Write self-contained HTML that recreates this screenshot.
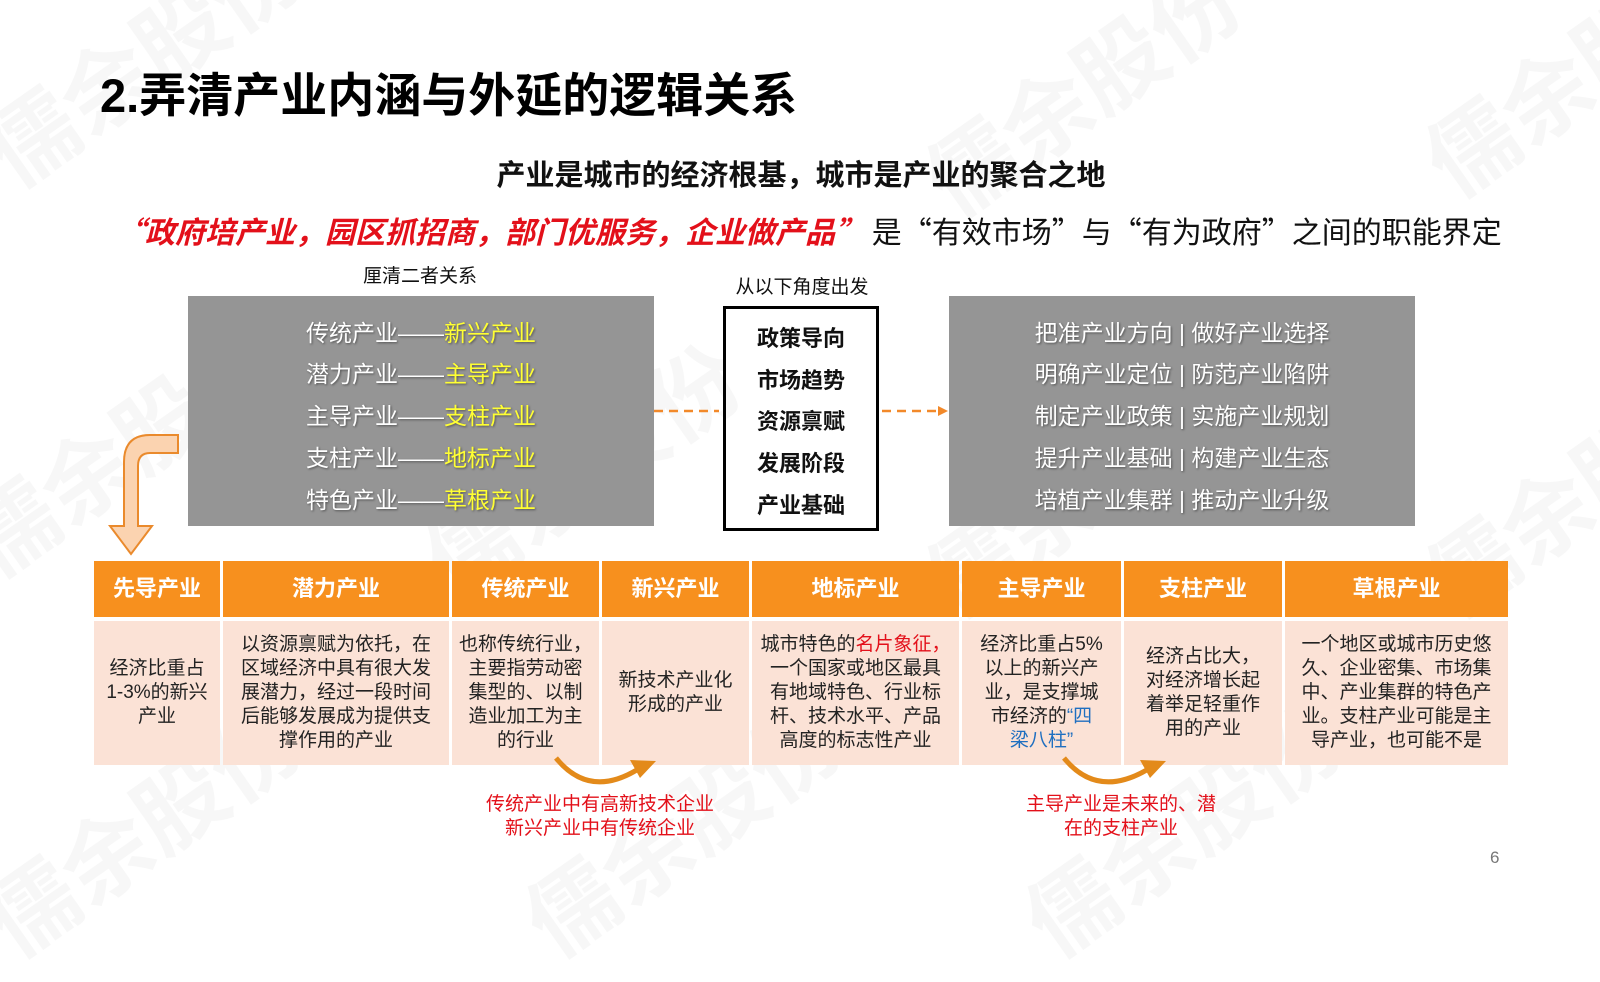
<!DOCTYPE html>
<html><head><meta charset="utf-8"><style>
*{margin:0;padding:0;box-sizing:border-box}
body{width:1600px;height:900px;background:#fff;position:relative;overflow:hidden;font-family:"Liberation Sans","Noto Sans CJK SC",sans-serif;color:#111}
.a{position:absolute;white-space:nowrap}
.c{text-align:center}
.gray{position:absolute;background:#959595}
.gl{position:absolute;left:0;width:100%;text-align:center;color:#fff;font-size:23px;text-shadow:1px 1px 2px rgba(0,0,0,.45);line-height:30px}
.y{color:#ffff33}
.bx div{font-weight:bold;font-size:22px;line-height:30px;position:absolute;left:0;width:100%;text-align:center}
.h{position:absolute;top:561px;height:56px;background:#f7901e;color:#fff;font-weight:bold;font-size:22px;line-height:56px;text-align:center}
.b{position:absolute;top:621px;height:144px;background:#fbe2d6;color:#222;font-size:19px;line-height:24px;display:table;table-layout:fixed}
.b>div{display:table-cell;vertical-align:middle;text-align:center;white-space:nowrap}
.wm{position:absolute;color:rgba(0,0,0,.03);font-size:90px;font-weight:bold;transform:rotate(-35deg);white-space:nowrap}
</style></head><body>
<div class="wm" style="left:-40px;top:-10px">儒余股份</div>
<div class="wm" style="left:900px;top:20px">儒余股份</div>
<div class="wm" style="left:1400px;top:0px">儒余股份</div>
<div class="wm" style="left:-60px;top:380px">儒余股份</div>
<div class="wm" style="left:400px;top:400px">儒余股份</div>
<div class="wm" style="left:900px;top:420px">儒余股份</div>
<div class="wm" style="left:1400px;top:420px">儒余股份</div>
<div class="wm" style="left:-40px;top:760px">儒余股份</div>
<div class="wm" style="left:500px;top:760px">儒余股份</div>
<div class="wm" style="left:1000px;top:760px">儒余股份</div>

<div class="a" style="left:100px;top:67px;font-size:47px;font-weight:bold;line-height:58px;color:#000">2.弄清产业内涵与外延的逻辑关系</div>
<div class="a c" style="left:0;width:1600px;top:158px;font-size:29px;font-weight:bold;line-height:36px;padding-left:2px">产业是城市的经济根基，城市是产业的聚合之地</div>
<div class="a" style="left:115px;top:210px;font-size:30px;line-height:40px;font-family:'Noto Sans CJK SC',sans-serif"><span style="color:#e3101a;font-weight:bold;font-style:italic">“政府培产业，园区抓招商，部门优服务，企业做产品”</span> 是“有效市场”与“有为政府”之间的职能界定</div>

<div class="a c" style="left:320px;width:200px;top:265px;font-size:19px;line-height:24px">厘清二者关系</div>
<div class="gray" style="left:188px;top:296px;width:466px;height:230px">
<div class="gl" style="top:22px">传统产业——<span class="y">新兴产业</span></div>
<div class="gl" style="top:63px">潜力产业——<span class="y">主导产业</span></div>
<div class="gl" style="top:105px">主导产业——<span class="y">支柱产业</span></div>
<div class="gl" style="top:147px">支柱产业——<span class="y">地标产业</span></div>
<div class="gl" style="top:189px">特色产业——<span class="y">草根产业</span></div>
</div>

<div class="a c" style="left:702px;width:200px;top:276px;font-size:19px;line-height:24px">从以下角度出发</div>
<div class="a bx" style="left:723px;top:306px;width:156px;height:225px;border:3px solid #000">
<div style="top:15px">政策导向</div>
<div style="top:57px">市场趋势</div>
<div style="top:98px">资源禀赋</div>
<div style="top:140px">发展阶段</div>
<div style="top:182px">产业基础</div>
</div>

<div class="gray" style="left:949px;top:296px;width:466px;height:230px">
<div class="gl" style="top:22px">把准产业方向 | 做好产业选择</div>
<div class="gl" style="top:63px">明确产业定位 | 防范产业陷阱</div>
<div class="gl" style="top:105px">制定产业政策 | 实施产业规划</div>
<div class="gl" style="top:147px">提升产业基础 | 构建产业生态</div>
<div class="gl" style="top:189px">培植产业集群 | 推动产业升级</div>
</div>

<div class="h" style="left:94px;width:126px">先导产业</div>
<div class="h" style="left:223px;width:226px">潜力产业</div>
<div class="h" style="left:452px;width:147px">传统产业</div>
<div class="h" style="left:602px;width:147px">新兴产业</div>
<div class="h" style="left:752px;width:207px">地标产业</div>
<div class="h" style="left:962px;width:159px">主导产业</div>
<div class="h" style="left:1124px;width:158px">支柱产业</div>
<div class="h" style="left:1285px;width:223px">草根产业</div>

<div class="b" style="left:94px;width:126px"><div>经济比重占<br>1-3%的新兴<br>产业</div></div>
<div class="b" style="left:223px;width:226px"><div>以资源禀赋为依托，在<br>区域经济中具有很大发<br>展潜力，经过一段时间<br>后能够发展成为提供支<br>撑作用的产业</div></div>
<div class="b" style="left:452px;width:147px"><div>也称传统行业，<br>主要指劳动密<br>集型的、以制<br>造业加工为主<br>的行业</div></div>
<div class="b" style="left:602px;width:147px"><div>新技术产业化<br>形成的产业</div></div>
<div class="b" style="left:752px;width:207px"><div>城市特色的<span style="color:#e3101a">名片象征，</span><br>一个国家或地区最具<br>有地域特色、行业标<br>杆、技术水平、产品<br>高度的标志性产业</div></div>
<div class="b" style="left:962px;width:159px"><div>经济比重占5%<br>以上的新兴产<br>业，是支撑城<br>市经济的<span style="color:#1f6fc0">“四</span><br><span style="color:#1f6fc0">梁八柱”</span></div></div>
<div class="b" style="left:1124px;width:158px"><div>经济占比大，<br>对经济增长起<br>着举足轻重作<br>用的产业</div></div>
<div class="b" style="left:1285px;width:223px"><div>一个地区或城市历史悠<br>久、企业密集、市场集<br>中、产业集群的特色产<br>业。支柱产业可能是主<br>导产业，也可能不是</div></div>

<svg class="a" style="left:0;top:0" width="1600" height="900">
<line x1="654" y1="411" x2="719" y2="411" stroke="#f2892a" stroke-width="2.5" stroke-dasharray="9,6"/>
<line x1="882" y1="411" x2="940" y2="411" stroke="#f2892a" stroke-width="2.5" stroke-dasharray="9,6"/>
<polygon points="938,406 948,411 938,416" fill="#f2892a"/>
<path d="M178,435 L178,453 L150,453 Q138,453 138,466 L138,526 L152,526 L131,554 L110,526 L124,526 L124,462 Q124,435 150,435 Z" fill="#fbd3b0" stroke="#ea8a2c" stroke-width="2"/>
<path d="M556,758 Q590,800 640,768" fill="none" stroke="#e38a1a" stroke-width="5"/>
<polygon points="630,760 656,761 640,778" fill="#e38a1a"/>
<path d="M1064,758 Q1098,800 1150,768" fill="none" stroke="#e38a1a" stroke-width="5"/>
<polygon points="1140,760 1166,761 1150,778" fill="#e38a1a"/>
</svg>

<div class="a c" style="left:450px;width:300px;top:793px;font-size:19px;line-height:24px;color:#e3101a">传统产业中有高新技术企业<br>新兴产业中有传统企业</div>
<div class="a c" style="left:971px;width:300px;top:793px;font-size:19px;line-height:24px;color:#e3101a">主导产业是未来的、潜<br>在的支柱产业</div>
<div class="a" style="left:1490px;top:848px;font-size:17px;color:#777">6</div>
</body></html>
